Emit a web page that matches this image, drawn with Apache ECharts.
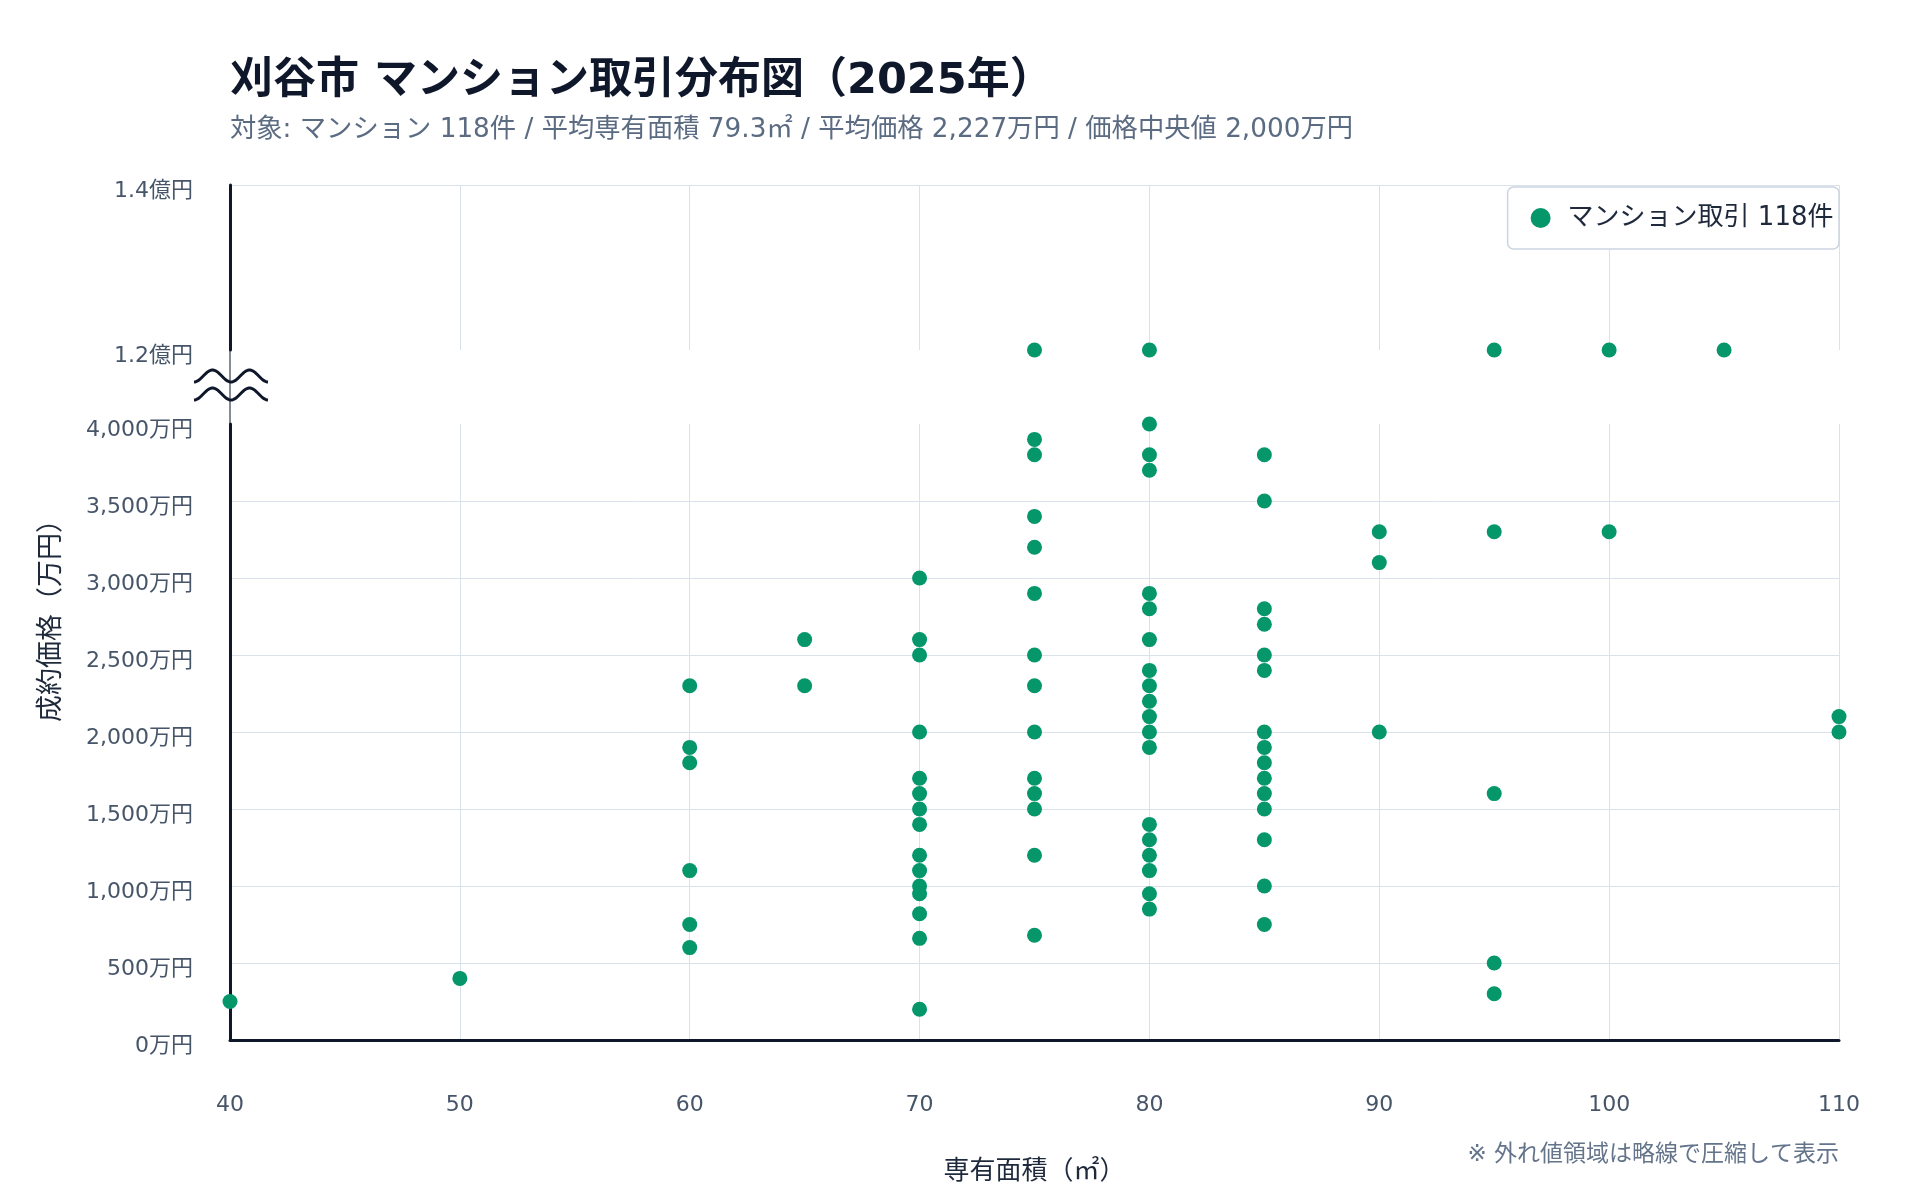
<!DOCTYPE html>
<html>
<head>
<meta charset="utf-8">
<script src="https://cdn.jsdelivr.net/npm/echarts@6/dist/echarts.min.js"></script>
<style>
html,body{margin:0;padding:0;background:#fff;}
#chart{width:1920px;height:1200px;}
</style>
</head>
<body>
<div id="chart"></div>
<script>
// ---- data ----
const titleText = '刈谷市 マンション取引分布図（2025年）';
const subtitleText = '対象: マンション 118件 / 平均専有面積 79.3㎡ / 平均価格 2,227万円 / 価格中央値 2,000万円';
const legendName = 'マンション取引 118件';
const xAxisName = '専有面積（㎡）';
const yAxisName = '成約価格（万円）';
const footnote = '※ 外れ値領域は略線で圧縮して表示';

// area columns (㎡) and prices (万円) for each column, lower (0-4000万円) range
const areaColumns = [40, 50, 60, 65, 70, 75, 80, 85, 90, 95, 100, 105, 110];
const pricesByArea = [
  [250],
  [400],
  [2300, 1900, 1800, 1100, 750, 600],
  [2600, 2300],
  [3000, 2600, 2500, 2000, 1700, 1600, 1500, 1400, 1200, 1100, 1000, 950, 820, 660, 200],
  [3900, 3800, 3400, 3200, 2900, 2500, 2300, 2000, 1700, 1600, 1500, 1200, 680],
  [4000, 3800, 3700, 2900, 2800, 2600, 2400, 2300, 2200, 2100, 2000, 1900, 1400, 1300, 1200, 1100, 950, 850],
  [3800, 3500, 2800, 2700, 2500, 2400, 2000, 1900, 1800, 1700, 1600, 1500, 1300, 1000, 750],
  [3300, 3100, 2000],
  [3300, 1600, 500, 300],
  [3300],
  [],
  [2100, 2000]
];
// outliers shown in the compressed upper band
const outlierAreas = [75, 80, 95, 100, 105];
const outlierPrices = [12000, 12000, 12000, 12000, 12000];

// axis ticks
const xTicks = [40, 50, 60, 70, 80, 90, 100, 110];
const lowerYTicks = [0, 500, 1000, 1500, 2000, 2500, 3000, 3500, 4000];
const upperYTicks = [12000, 14000];

// ---- build ----
const lowerData = [];
areaColumns.forEach((a, i) => pricesByArea[i].forEach(p => lowerData.push([a, p])));
const upperData = outlierAreas.map((a, i) => [a, outlierPrices[i]]);

const FONT = "'DejaVu Sans', 'Noto Sans CJK JP', sans-serif";
const DARK = '#0f172a';
const TICK = '#475569';
const GRIDC = '#d9e1ea';
const DOT = '#059669';

const L = 230, R = 81;          // plot left / right margins
const upTop = 185, upH = 165;   // upper band
const loTop = 424, loBottom = 160;

const chart = echarts.init(document.getElementById('chart'), null, {renderer: 'canvas'});

function wave(cy) {
  const pts = [];
  const x0 = 194, w = 74, P = 37, A = 6;
  for (let i = 0; i <= 74; i++) {
    const x = x0 + i * w / 74;
    pts.push([x, cy + A * Math.cos(2 * Math.PI * (x - x0) / P)]);
  }
  return pts;
}

const yLabelBase = {margin: 37, fontSize: 22, color: TICK, fontFamily: FONT, verticalAlign: 'top', lineHeight: 12};

const option = {
  backgroundColor: '#ffffff',
  textStyle: {fontFamily: FONT},
  title: {
    text: titleText,
    subtext: subtitleText,
    left: L, top: 60, padding: 0, itemGap: 14,
    textStyle: {fontFamily: FONT, fontSize: 43, fontWeight: 'bold', color: DARK},
    subtextStyle: {fontFamily: FONT, fontSize: 26.3, color: '#5b6b82'}
  },
  legend: {
    data: [legendName],
    right: R, top: 187,
    orient: 'horizontal',
    backgroundColor: '#ffffff',
    borderColor: '#cbd5e1', borderWidth: 1.5, borderRadius: 6,
    padding: [18, 5.5, 18, 23],
    itemWidth: 44, itemHeight: 20,
    icon: 'circle',
    textStyle: {fontFamily: FONT, fontSize: 26, color: '#1e293b'}
  },
  grid: [
    {left: L, right: R, top: upTop, height: upH, containLabel: false},
    {left: L, right: R, top: loTop, bottom: loBottom, containLabel: false}
  ],
  xAxis: [
    {
      gridIndex: 0, type: 'value', min: xTicks[0], max: xTicks[xTicks.length - 1], interval: 10,
      axisLine: {show: false}, axisTick: {show: false}, axisLabel: {show: false},
      splitLine: {show: true, lineStyle: {color: GRIDC, width: 1}}
    },
    {
      gridIndex: 1, type: 'value', min: xTicks[0], max: xTicks[xTicks.length - 1], interval: 10,
      name: xAxisName, nameLocation: 'middle', nameGap: 119,
      nameTextStyle: {fontFamily: FONT, fontSize: 26, color: '#1e293b'},
      axisLine: {show: true, onZero: false, lineStyle: {color: DARK, width: 3}},
      axisTick: {show: false},
      axisLabel: {margin: 54, fontSize: 22, color: TICK, fontFamily: FONT},
      splitLine: {show: true, lineStyle: {color: GRIDC, width: 1}}
    }
  ],
  yAxis: [
    {
      gridIndex: 0, type: 'value', min: upperYTicks[0], max: upperYTicks[1], interval: 2000,
      axisLine: {show: true, lineStyle: {color: DARK, width: 3}},
      axisTick: {show: false},
      axisLabel: Object.assign({}, yLabelBase, {formatter: v => (v / 10000).toFixed(1) + '億円'}),
      splitLine: {show: true, showMinLine: false, lineStyle: {color: GRIDC, width: 1}}
    },
    {
      gridIndex: 1, type: 'value', min: lowerYTicks[0], max: lowerYTicks[lowerYTicks.length - 1], interval: 500,
      axisLine: {show: true, onZero: false, lineStyle: {color: DARK, width: 3}},
      axisTick: {show: false},
      axisLabel: Object.assign({}, yLabelBase, {formatter: v => v.toLocaleString('en-US') + '万円'}),
      splitLine: {show: true, showMaxLine: false, lineStyle: {color: GRIDC, width: 1}}
    }
  ],
  series: [
    {
      name: legendName, type: 'scatter', xAxisIndex: 1, yAxisIndex: 1,
      symbol: 'circle', symbolSize: 15, itemStyle: {color: DOT, opacity: 1},
      clip: false, data: lowerData, z: 5
    },
    {
      name: legendName, type: 'scatter', xAxisIndex: 0, yAxisIndex: 0,
      symbol: 'circle', symbolSize: 15, itemStyle: {color: DOT, opacity: 1},
      clip: false, data: upperData, z: 5
    }
  ],
  graphic: [
    {type: 'line', shape: {x1: L, y1: upTop + upH - 3, x2: L, y2: loTop}, style: {stroke: DARK, lineWidth: 1}, z: 10},
    {type: 'polyline', shape: {points: wave(376)}, style: {stroke: DARK, lineWidth: 3, fill: null}, z: 11},
    {type: 'polyline', shape: {points: wave(394)}, style: {stroke: DARK, lineWidth: 3, fill: null}, z: 11},
    {type: 'text', x: 52, y: 614, rotation: Math.PI / 2,
      style: {text: yAxisName, fontFamily: FONT, fontSize: 27, fill: '#1e293b', align: 'center', verticalAlign: 'middle'}},
    {type: 'text', x: 1920 - R, y: 1155,
      style: {text: footnote, fontFamily: FONT, fontSize: 23, fill: '#64748b', align: 'right', verticalAlign: 'middle'}}
  ]
};
chart.setOption(option);
</script>
</body>
</html>
